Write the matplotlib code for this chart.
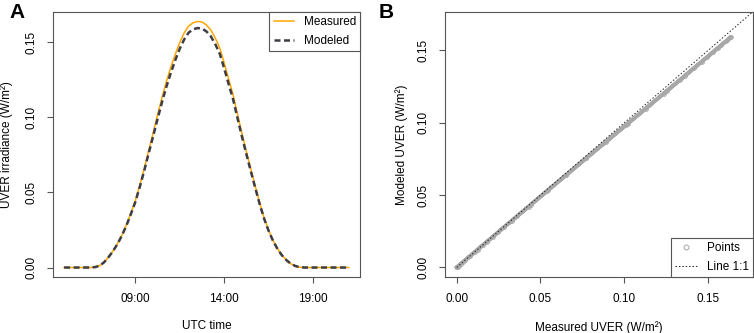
# =========================================================
# UVER: MEASURED VS MODELED (PANELS A AND B)
# =========================================================

import numpy as np
import matplotlib.pyplot as plt

plt.rcParams['font.family'] = ['Liberation Sans', 'DejaVu Sans']
plt.rcParams['font.size'] = 8.5


# =========================================================
# DATA (15 min steps, 05:00 - 21:00 UTC)
# =========================================================

hours = np.arange(5.0, 21.01, 0.25)

measured = [
    0, 0, 0, 0, 0, 0, 0,
    0.0003, 0.0012, 0.0035, 0.0070, 0.0110,
    0.0158, 0.0215, 0.0282, 0.0360,
    0.0442, 0.0545, 0.0655, 0.0774,
    0.0892, 0.1012, 0.1128, 0.1236,
    0.1332, 0.1418, 0.1496, 0.1560,
    0.1606, 0.1628, 0.1637, 0.1634,
    0.1614, 0.1580, 0.1527, 0.1462,
    0.1362, 0.1255, 0.1150, 0.1020,
    0.0893, 0.0772, 0.0655, 0.0540,
    0.0430, 0.0330, 0.0248, 0.0180,
    0.0125, 0.0082, 0.0050, 0.0025,
    0.0010, 0.0002,
    0, 0, 0, 0, 0, 0, 0, 0, 0, 0, 0
]

modeled = [
    0, 0, 0, 0, 0, 0, 0,
    0.0003, 0.0012, 0.0035, 0.0069, 0.0109,
    0.0156, 0.0212, 0.0278, 0.0354,
    0.0434, 0.0534, 0.0641, 0.0757,
    0.0870, 0.0986, 0.1098, 0.1202,
    0.1295, 0.1379, 0.1455, 0.1517,
    0.1562, 0.1585, 0.1593, 0.1590,
    0.1571, 0.1538, 0.1486, 0.1423,
    0.1326, 0.1222, 0.1120, 0.0994,
    0.0871, 0.0754, 0.0640, 0.0529,
    0.0421, 0.0324, 0.0244, 0.0177,
    0.0123, 0.0081, 0.0049, 0.0025,
    0.0010, 0.0002,
    0, 0, 0, 0, 0, 0, 0, 0, 0, 0, 0
]

time_ticks = [9, 14, 19]
time_labels = ["09:00", "14:00", "19:00"]
uver_ticks = [0.00, 0.05, 0.10, 0.15]


# =========================================================
# FIGURE
# =========================================================

fig = plt.figure(figsize=(7.54, 3.33), dpi=100)

ax_a = fig.add_axes([0.0699, 0.1673, 0.4076, 0.7976])
ax_b = fig.add_axes([0.5906, 0.1673, 0.4080, 0.7976])

frame_color = "#555555"


def style_axes(ax):

    for sp in ax.spines.values():
        sp.set_color(frame_color)
        sp.set_linewidth(0.8)

    ax.tick_params(
        direction='out',
        length=4.3,
        width=0.8,
        color=frame_color,
        pad=7
    )

    for lab in ax.get_yticklabels():
        lab.set_rotation(90)
        lab.set_va('center')


def style_legend(leg):

    leg.get_frame().set_linewidth(0.8)


# ---------------- Panel A ----------------

ax_a.plot(hours, measured, color="#FFA500", lw=1.1, label="Measured")

ax_a.plot(
    hours,
    modeled,
    color="#3d3d45",
    lw=1.8,
    dashes=(2.4, 1.4),
    label="Modeled"
)

ax_a.set_xlim(4.36, 21.64)
ax_a.set_ylim(-0.0065, 0.1702)
ax_a.set_xticks(time_ticks)
ax_a.set_xticklabels(time_labels)
ax_a.set_yticks(uver_ticks)
ax_a.set_yticklabels([f"{v:.2f}" for v in uver_ticks])
style_axes(ax_a)

ax_a.set_xlabel("UTC time")
ax_a.set_ylabel("UVER irradiance (W/m²)")
ax_a.xaxis.set_label_coords(0.5, -0.16)
ax_a.yaxis.set_label_coords(-0.128, 0.5)

leg_a = ax_a.legend(
    loc="upper right",
    borderaxespad=0,
    fancybox=False,
    framealpha=1,
    edgecolor=frame_color,
    handlelength=1.75,
    borderpad=0.35,
    labelspacing=0.6
)
style_legend(leg_a)

fig.text(0.013, 0.99, "A", fontsize=15, fontweight='bold', va='top')


# ---------------- Panel B ----------------

ax_b.plot(
    measured,
    modeled,
    color="#a8a8a8",
    lw=2.8,
    marker='o',
    ms=2.6,
    mfc='none',
    mew=0.7,
    label="Points"
)

ax_b.plot(
    [0, 0.2],
    [0, 0.2],
    color="#222222",
    lw=0.7,
    linestyle=(0, (1.5, 2)),
    label="Line 1:1"
)

ax_b.set_xlim(-0.0068, 0.1768)
ax_b.set_ylim(-0.0068, 0.1768)
ax_b.set_xticks(uver_ticks)
ax_b.set_xticklabels([f"{v:.2f}" for v in uver_ticks])
ax_b.set_yticks(uver_ticks)
ax_b.set_yticklabels([f"{v:.2f}" for v in uver_ticks])
style_axes(ax_b)

ax_b.set_xlabel("Measured UVER (W/m²)")
ax_b.set_ylabel("Modeled UVER (W/m²)")
ax_b.xaxis.set_label_coords(0.5, -0.165)
ax_b.yaxis.set_label_coords(-0.12, 0.5)

# legend with a single hollow circle for the points
h_pts = plt.Line2D([], [], color="#b0b0b0", lw=0, marker='o', ms=3.5,
                   mfc='none', mew=0.8)
h_line = ax_b.get_lines()[1]

leg_b = ax_b.legend(
    [h_pts, h_line],
    ["Points", "Line 1:1"],
    loc="lower right",
    borderaxespad=0,
    fancybox=False,
    framealpha=1,
    edgecolor=frame_color,
    handlelength=1.9,
    borderpad=0.35,
    labelspacing=0.6
)
style_legend(leg_b)

fig.text(0.502, 0.99, "B", fontsize=15, fontweight='bold', va='top')


# =========================================================
# SAVE
# =========================================================

fig.savefig("out.png", dpi=100)
plt.close(fig)
